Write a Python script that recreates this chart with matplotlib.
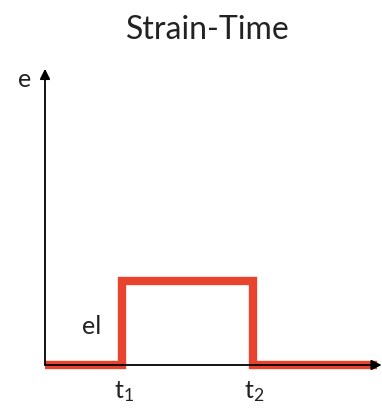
import matplotlib
matplotlib.use("Agg")
import matplotlib.pyplot as plt

# Data (time in arbitrary units, strain in arbitrary units)
time = [0.0, 2.3, 2.3, 6.2, 6.2, 9.9]
strain = [0.0, 0.0, 1.0, 1.0, 0.0, 0.0]
t_labels = ["t$_1$", "t$_2$"]
t_positions = [2.3, 6.2]
el_label = "el"
title = "Strain-Time"

W, H = 382, 410
fig = plt.figure(figsize=(W / 100, H / 100), dpi=100)
plt.rcParams['font.family'] = ['Lato', 'DejaVu Sans']
plt.rcParams['mathtext.fontset'] = 'custom'
plt.rcParams['mathtext.rm'] = 'Lato'
plt.rcParams['mathtext.it'] = 'Lato'

x0, x1 = 45, 380
yb, yt = 366, 74
ax = fig.add_axes([x0 / W, 1 - yb / H, (x1 - x0) / W, (yb - yt) / H])
ax.set_xlim(0, 10)
ax.set_ylim(0, 3.48)
ax.axis('off')

# axes arrows
ax.annotate("", xy=(0, 3.53), xytext=(0, 0), xycoords='data',
            arrowprops=dict(arrowstyle='-|>', color='black', lw=1.3,
                            mutation_scale=15, shrinkA=0, shrinkB=0),
            annotation_clip=False, zorder=4)
ax.annotate("", xy=(10.05, 0), xytext=(0, 0), xycoords='data',
            arrowprops=dict(arrowstyle='-|>', color='black', lw=1.3,
                            mutation_scale=15, shrinkA=0, shrinkB=0),
            annotation_clip=False, zorder=4)

ax.plot(time, strain, color='#e8432f', lw=6, solid_joinstyle='miter',
        solid_capstyle='butt', clip_on=False, zorder=3)

for tp, lab in zip(t_positions, t_labels):
    ax.text(tp + 0.05, -0.16, lab, ha='center', va='top', fontsize=18, color='#222222')

ax.text(1.4, 0.47, el_label, ha='center', va='center', fontsize=18, color='#222222')
ax.text(-0.6, 3.42, "e", ha='center', va='center', fontsize=18, color='#222222')

fig.text(208 / W, 1 - 30 / H, title, ha='center', va='center', fontsize=23, color='#222222')

fig.savefig("out.png", dpi=100)
